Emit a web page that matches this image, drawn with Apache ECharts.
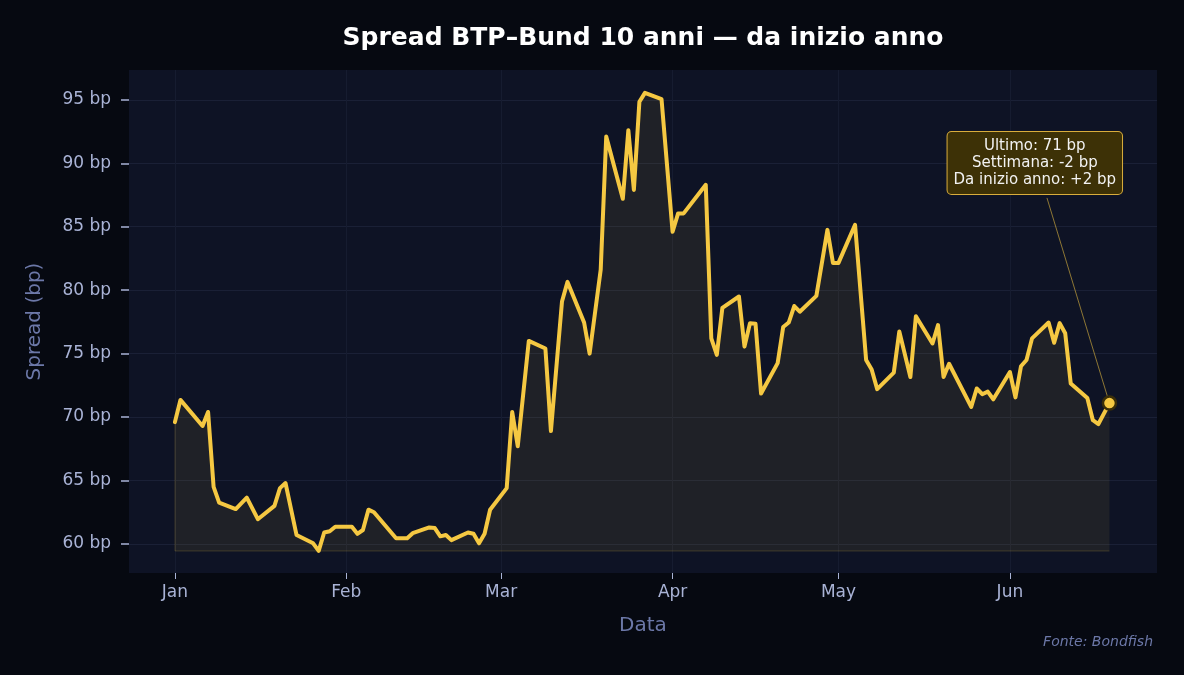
<!DOCTYPE html>
<html lang="it">
<head>
    <meta charset="UTF-8">
    <title>Spread BTP-Bund</title>
    <script src="https://cdn.jsdelivr.net/npm/echarts@6/dist/echarts.min.js"></script>
    <style>
        * { margin: 0; padding: 0; }
        #chart { width: 1184px; height: 675px; }
    </style>
</head>
<body>
<div id="chart"></div>
<script>
    // date (2025) e spread in bp
    var dates = [
        '2025-01-01','2025-01-02','2025-01-06','2025-01-07','2025-01-08','2025-01-09','2025-01-12','2025-01-14',
        '2025-01-16','2025-01-19','2025-01-20','2025-01-21','2025-01-23','2025-01-26','2025-01-27','2025-01-28',
        '2025-01-29','2025-01-30','2025-02-02','2025-02-03','2025-02-04','2025-02-05','2025-02-06','2025-02-10',
        '2025-02-12','2025-02-13','2025-02-16','2025-02-17','2025-02-18','2025-02-19','2025-02-20','2025-02-23',
        '2025-02-24','2025-02-25','2025-02-26','2025-02-27','2025-03-02','2025-03-03','2025-03-04','2025-03-06',
        '2025-03-09','2025-03-10','2025-03-12','2025-03-13','2025-03-16','2025-03-17','2025-03-19','2025-03-20',
        '2025-03-23','2025-03-24','2025-03-25','2025-03-26','2025-03-27','2025-03-30','2025-04-01','2025-04-02',
        '2025-04-03','2025-04-07','2025-04-08','2025-04-09','2025-04-10','2025-04-13','2025-04-14','2025-04-15',
        '2025-04-16','2025-04-17','2025-04-20','2025-04-21','2025-04-22','2025-04-23','2025-04-24','2025-04-27',
        '2025-04-29','2025-04-30','2025-05-01','2025-05-04','2025-05-06','2025-05-07','2025-05-08','2025-05-11',
        '2025-05-12','2025-05-14','2025-05-15','2025-05-18','2025-05-19','2025-05-20','2025-05-21','2025-05-25',
        '2025-05-26','2025-05-27','2025-05-28','2025-05-29','2025-06-01','2025-06-02','2025-06-03','2025-06-04',
        '2025-06-05','2025-06-08','2025-06-09','2025-06-10','2025-06-11','2025-06-12','2025-06-15','2025-06-16',
        '2025-06-17','2025-06-19'
    ];
    var spread = [
        69.6, 71.35, 69.3, 70.4, 64.5, 63.25, 62.75, 63.65,
        61.95, 63.0, 64.4, 64.8, 60.7, 60.05, 59.45, 60.9,
        61.0, 61.35, 61.35, 60.8, 61.1, 62.7, 62.5, 60.45,
        60.45, 60.85, 61.3, 61.25, 60.6, 60.7, 60.3, 60.9,
        60.8, 60.05, 60.8, 62.7, 64.4, 70.4, 67.7, 76.0,
        75.4, 68.9, 79.1, 80.65, 77.45, 75.0, 81.6, 92.1,
        87.2, 92.6, 87.9, 94.85, 95.55, 95.05, 84.6, 86.05,
        86.05, 88.3, 76.2, 74.9, 78.6, 79.5, 75.55, 77.4,
        77.35, 71.85, 74.25, 77.1, 77.45, 78.75, 78.3, 79.55,
        84.75, 82.15, 82.15, 85.15, 74.5, 73.75, 72.2, 73.5,
        76.75, 73.15, 77.95, 75.8, 77.25, 73.15, 74.2, 70.8,
        72.25, 71.8, 72.0, 71.4, 73.55, 71.55, 74.0, 74.5,
        76.2, 77.45, 75.85, 77.4, 76.6, 72.65, 71.5, 69.75,
        69.45, 71.1
    ];
    var monthNames = ['Jan', 'Feb', 'Mar', 'Apr', 'May', 'Jun'];
    var monthStarts = ['2025-01-01', '2025-02-01', '2025-03-01', '2025-04-01', '2025-05-01', '2025-06-01'];
    var yTicks = [60, 65, 70, 75, 80, 85, 90, 95];
    var noteLines = ['Ultimo: 71 bp', 'Settimana: -2 bp', 'Da inizio anno: +2 bp'];

    // giorno dell'anno (0 = 1 gennaio)
    function dayOfYear(s) {
        var p = s.split('-');
        return (Date.UTC(+p[0], +p[1] - 1, +p[2]) - Date.UTC(+p[0], 0, 1)) / 86400000;
    }

    var points = dates.map(function (d, i) { return [dayOfYear(d), spread[i]]; });
    var monthDays = monthStarts.map(dayOfYear);
    var base = Math.min.apply(null, spread);
    var first = points[0];
    var last = points[points.length - 1];

    var gold = '#f5c842';
    var font = 'DejaVu Sans';
    var edge = { color: 'rgba(245,200,66,0.12)', width: 1.5, type: 'solid' };

    var chart = echarts.init(document.getElementById('chart'));
    chart.setOption({
        backgroundColor: '#060911',
        animation: false,
        graphic: [{
            type: 'text',
            x: 643,
            y: 38,
            style: {
                text: 'Spread BTP–Bund 10 anni — da inizio anno',
                fill: '#ffffff', font: 'bold 25px "DejaVu Sans"',
                align: 'center', verticalAlign: 'middle'
            }
        }, {
            type: 'text',
            right: 31,
            top: 635,
            style: { text: 'Fonte: Bondfish', fill: '#6c78a8', font: 'italic 14px "DejaVu Sans"' }
        }],
        grid: {
            left: 129, right: 27, top: 70, bottom: 102,
            show: true, backgroundColor: '#0e1325', borderWidth: 0
        },
        xAxis: {
            type: 'value',
            min: -8.3,
            max: 177.6,
            name: 'Data',
            nameLocation: 'middle',
            nameGap: 43,
            nameTextStyle: { color: '#6c78a8', fontSize: 20, fontFamily: font },
            axisLine: { show: false, onZero: false },
            axisTick: { show: true, length: 6, customValues: monthDays, lineStyle: { color: '#a9b3d6' } },
            axisLabel: {
                customValues: monthDays,
                color: '#a9b3d6', fontSize: 17, fontFamily: font, margin: 11,
                formatter: function (v) { return monthNames[monthDays.indexOf(v)]; }
            },
            splitLine: { show: true, lineStyle: { color: '#161c30', width: 1 } }
        },
        yAxis: {
            type: 'value',
            min: 57.71,
            max: 97.35,
            name: 'Spread (bp)',
            nameLocation: 'middle',
            nameGap: 84,
            nameTextStyle: { color: '#6c78a8', fontSize: 20, fontFamily: font },
            axisLine: { show: false, onZero: false },
            axisTick: { show: true, length: 8, customValues: yTicks, lineStyle: { color: '#a9b3d6', width: 1.5 } },
            axisLabel: {
                customValues: yTicks,
                color: '#a9b3d6', fontSize: 17, fontFamily: font, margin: 18,
                padding: [4, 0, 0, 0],
                formatter: function (v) { return v + ' bp'; }
            },
            splitLine: { show: true, lineStyle: { color: '#1a2036', width: 1 } }
        },
        series: [{
            type: 'line',
            data: points,
            showSymbol: false,
            symbol: 'none',
            lineStyle: { color: gold, width: 4, join: 'round', cap: 'round' },
            areaStyle: { color: gold, opacity: 0.08, origin: base },
            z: 3,
            markLine: {
                silent: true,
                symbol: 'none',
                label: { show: false },
                data: [
                    [{ coord: [first[0], base], lineStyle: edge }, { coord: [last[0], base] }],
                    [{ coord: [first[0], base], lineStyle: edge }, { coord: [first[0], first[1]] }],
                    [{ coord: [157.7, 87.27], lineStyle: { color: 'rgba(245,200,66,0.55)', width: 1, type: 'solid' } },
                     { coord: [last[0], last[1]] }]
                ]
            },
            markPoint: {
                silent: true,
                data: [{
                    coord: last,
                    symbol: 'circle',
                    symbolSize: 13,
                    itemStyle: { color: gold, borderColor: '#3a2e08', borderWidth: 2.5 },
                    label: { show: false }
                }, {
                    coord: [155.5, 90.02],
                    symbol: 'circle',
                    symbolSize: 0,
                    label: {
                        show: true,
                        position: 'inside',
                        formatter: noteLines.join('\n'),
                        color: '#f2f2f2',
                        fontSize: 15,
                        fontFamily: font,
                        lineHeight: 17,
                        align: 'center',
                        backgroundColor: '#3d3106',
                        borderColor: '#d9ad3c',
                        borderWidth: 1,
                        borderRadius: 4,
                        padding: [6, 6, 5, 6]
                    }
                }]
            }
        }]
    });
</script>
</body>
</html>
